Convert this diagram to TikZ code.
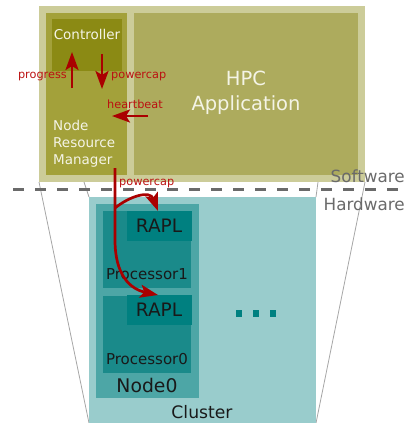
\documentclass[tikz,border=0pt]{standalone}
\usepackage{fontspec}
\setmainfont{DejaVu Sans}
\usetikzlibrary{arrows.meta}
\definecolor{swlight}{HTML}{CCCC99}
\definecolor{nrmcol}{HTML}{A3A13A}
\definecolor{hpccol}{HTML}{ADAB5D}
\definecolor{ctrlcol}{HTML}{8B8A14}
\definecolor{clustcol}{HTML}{99CCCC}
\definecolor{nodecol}{HTML}{4DA6A6}
\definecolor{proccol}{HTML}{1A8A8A}
\definecolor{raplcol}{HTML}{008080}
\definecolor{arrred}{HTML}{AA0000}
\definecolor{lblred}{HTML}{BB1111}
\definecolor{sepgray}{HTML}{6A6A6A}
\definecolor{wtext}{HTML}{F4F4E6}
\tikzset{
  box/.style={rectangle, inner sep=0pt, anchor=north west},
  redarr/.style={draw=arrred, line width=2.7pt, -{Stealth[length=18pt,width=13pt,inset=4pt]}},
  redlbl/.style={text=lblred, font=\fontsize{11.3}{13}\selectfont, inner sep=0pt},
  thinline/.style={draw=black!35, line width=0.8pt},
  whitetxt/.style={text=wtext, inner sep=0pt},
}
\begin{document}
\begin{tikzpicture}[x=1pt,y=-1pt]
\useasboundingbox (0,0) rectangle (407,423);
% software boxes
\node[box, fill=swlight, minimum width=326pt, minimum height=176pt] (sw) at (39,6) {};
\node[box, fill=nrmcol, minimum width=81pt, minimum height=162pt] (nrm) at (46,13) {};
\node[box, fill=hpccol, minimum width=224pt, minimum height=162pt] (hpc) at (134,13) {};
\node[box, fill=ctrlcol, minimum width=70pt, minimum height=52pt] (ctrl) at (52,19) {};
% perspective lines
\coordinate (la) at (39,182);
\coordinate (lb) at (84,182);
\coordinate (ld) at (318,182);
\coordinate (lc) at (365,182);
\coordinate (cbl) at (89,423);
\coordinate (ctl) at (89,197);
\coordinate (ctr) at (316,197);
\coordinate (cbr) at (316,423);
\draw[thinline] (la) -- (cbl);
\draw[thinline] (lb) -- (ctl);
\draw[thinline] (ld) -- (ctr);
\draw[thinline] (lc) -- (cbr);
% separator
\coordinate (sepl) at (13,189);
\coordinate (sepr) at (407,189);
\draw[sepgray, line width=3pt, dash pattern=on 11pt off 11pt] (sepl) -- (sepr);
% hardware boxes
\node[box, fill=clustcol, minimum width=227pt, minimum height=226pt] (cluster) at (89,197) {};
\node[box, fill=nodecol, minimum width=103pt, minimum height=194pt] (node0) at (96,204) {};
\node[box, fill=proccol, minimum width=88pt, minimum height=77pt] (proc1) at (103,211) {};
\node[box, fill=proccol, minimum width=88pt, minimum height=77pt] (proc0) at (103,296) {};
\node[box, fill=raplcol, minimum width=65pt, minimum height=30pt] (rapl1) at (127,211) {};
\node[box, fill=raplcol, minimum width=65pt, minimum height=30pt] (rapl0) at (127,295) {};
\node[text=black!90, font=\fontsize{18.5}{20}\selectfont, inner sep=0pt] (rapl1t) at (159,226) {RAPL};
\node[text=black!90, font=\fontsize{18.5}{20}\selectfont, inner sep=0pt] (rapl0t) at (159,310) {RAPL};
\node[text=black!90, font=\fontsize{15}{17}\selectfont, inner sep=0pt] (p1t) at (147,274) {Processor1};
\node[text=black!90, font=\fontsize{15}{17}\selectfont, inner sep=0pt] (p0t) at (147,359) {Processor0};
\node[text=black!90, font=\fontsize{18.8}{20}\selectfont, inner sep=0pt] (n0t) at (147,385) {Node0};
\node[text=black!90, font=\fontsize{17.2}{19}\selectfont, inner sep=0pt] (clt) at (202,412) {Cluster};
% dots
\foreach \i/\x in {1/239,2/256,3/273}
  \node[rectangle, fill=raplcol, minimum width=6pt, minimum height=7pt, inner sep=0pt] (dot\i) at (\x,313.5) {};
% software texts
\node[whitetxt, font=\fontsize{13.5}{16}\selectfont] (ctrlt) at (87,34) {Controller};
\node[whitetxt, font=\fontsize{19.5}{25}\selectfont, align=center] (hpct) at (246,93) {HPC\\Application};
\node[whitetxt, font=\fontsize{13.5}{17}\selectfont, align=left, anchor=north west] (nrmt) at (53,120) {Node\\Resource\\Manager};
\node[text=sepgray, font=\fontsize{16.8}{19}\selectfont, inner sep=0pt, anchor=east] (swt) at (405,176) {Software};
\node[text=sepgray, font=\fontsize{16.8}{19}\selectfont, inner sep=0pt, anchor=east] (hwt) at (405,204) {Hardware};
% arrows
\coordinate (pgs) at (72,88);
\coordinate (pge) at (72,52);
\coordinate (pcs) at (102,54);
\coordinate (pce) at (102,89);
\coordinate (hbs) at (148,116);
\coordinate (hbe) at (112,116);
\coordinate (pws) at (115,168);
\coordinate (pwb) at (115,208);
\coordinate (pwm) at (115,240);
\coordinate (pw1) at (158,211);
\coordinate (pw0) at (158,295);
\draw[redarr] (pgs) -- (pge);
\draw[redarr] (pcs) -- (pce);
\draw[redarr] (hbs) -- (hbe);
\draw[redarr] (pws) -- (pwm) .. controls (115,275) and (130,289) .. (pw0);
\draw[redarr] (pwb) .. controls (130,196) and (150,190) .. (pw1);
\node[redlbl, anchor=east] (pgl) at (67,77) {progress};
\node[redlbl, anchor=west] (pcl) at (111,77) {powercap};
\node[redlbl, anchor=west] (hbl) at (107,104) {heartbeat};
\node[redlbl, anchor=west] (pwl) at (119,184) {powercap};
\end{tikzpicture}
\end{document}
